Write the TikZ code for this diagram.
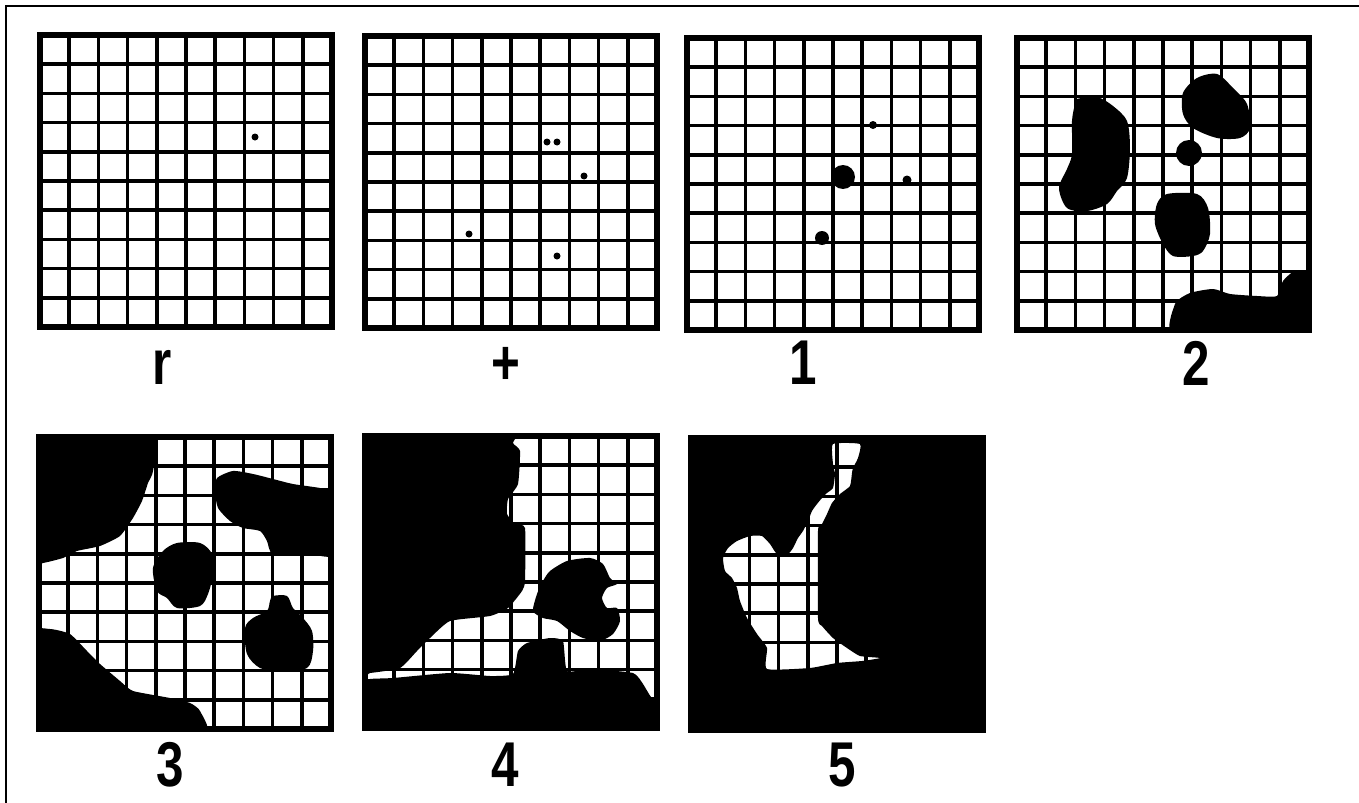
\documentclass[tikz,border=0pt]{standalone}
\usepackage{fontspec}
\setmainfont{Liberation Sans}
\usepackage{graphicx}
\usepackage{tikz}
\newcommand{\cellsize}{29.2}
\newcommand{\panelgrid}{%
  \foreach \k in {1,...,9} {%
    \draw[gridline] (\k*\cellsize,0) -- (\k*\cellsize,292);
    \draw[gridline] (0,\k*\cellsize) -- (292,\k*\cellsize);
  }}
\newcommand{\panelframe}{\draw[panelframe] (0,0) rectangle (292,292);}
\newcommand{\panelclip}{\clip (0,0) rectangle (292,292);}
\newcommand{\lbl}[1]{\scalebox{0.78}[1]{#1}}

\tikzset{
  gridline/.style={line width=1pt},
  panelframe/.style={line width=1.6pt},
  frameline/.style={line width=0.6pt},
  blob/.style={fill=black},
  paneltag/.style={font=\fontsize{18}{18}\selectfont\bfseries,anchor=base,inner sep=0pt}
}

\begin{document}
\begin{tikzpicture}[x=0.01cm,y=-0.01cm]
\useasboundingbox (0,0) rectangle (1359,803);
\draw[frameline] (1359,6) -- (6,6) -- (6,803);

% panel r
\begin{scope}[shift={(40,35)}]
  \panelgrid
  \fill[blob] (215,102) circle (3.5);
  \panelframe
\end{scope}
\node[paneltag] (tag-r) at (162,385) {\lbl{r}};

% panel +
\begin{scope}[shift={(365,36)}]
  \panelgrid
  \fill[blob] (182,106) circle (3.5);
  \fill[blob] (192,106) circle (3.5);
  \fill[blob] (219,140) circle (3.5);
  \fill[blob] (104,198) circle (3.5);
  \fill[blob] (192,220) circle (3.5);
  \panelframe
\end{scope}
\node[paneltag] (tag-plus) at (506,385) {\lbl{+}};

% panel 1
\begin{scope}[shift={(687,38)}]
  \panelgrid
  \fill[blob] (186,87) circle (4);
  \fill[blob] (156,139) circle (12);
  \fill[blob] (220,142) circle (4.5);
  \fill[blob] (135,200) circle (7);
  \panelframe
\end{scope}
\node[paneltag] (tag-one) at (803,385) {\lbl{1}};

% panel 2
\begin{scope}[shift={(1017,38)}]
  \panelgrid
  \begin{scope}
    \panelclip
    \fill[blob] plot[smooth cycle,tension=0.5] coordinates {(60,61) (80,59) (96,68) (110,83)
      (113,110) (110,140) (100,153) (90,166) (70,173) (50,170) (42,150) (50,131)
      (55,116) (55,83) (58,66)};
    \fill[blob] plot[smooth cycle,tension=0.5] coordinates {(180,40) (200,36) (216,50)
      (230,66) (233,90) (223,100) (200,100) (176,90) (166,76) (166,55)};
    \fill[blob] (172,115) circle (13);
    \fill[blob] plot[smooth cycle,tension=0.5] coordinates {(150,156) (180,156) (191,170)
      (193,196) (186,213) (176,218) (156,218) (146,206) (138,186) (140,166)};
    \fill[blob] plot[smooth cycle,tension=0.35] coordinates {(159,300) (158,266) (173,255)
      (196,251) (213,256) (240,258) (260,258) (266,243) (276,234) (290,233) (300,240) (300,300)};
  \end{scope}
  \panelframe
\end{scope}
\node[paneltag] (tag-two) at (1196,386) {\lbl{2}};

% panel 3
\begin{scope}[shift={(39,437)}]
  \panelgrid
  \begin{scope}
    \panelclip
    \fill[blob] plot[smooth cycle,tension=0.3] coordinates {(-10,-10) (114,-10) (114,34)
      (109,46) (103,64) (94,81) (81,99) (61,109) (38,114) (24,121) (4,126) (-10,126)};
    \fill[blob] plot[smooth cycle,tension=0.4] coordinates {(178,41) (194,34) (214,37)
      (234,42) (254,47) (281,51) (300,56) (300,117) (268,117) (234,117) (228,104)
      (221,94) (204,91) (191,84) (179,71) (176,54)};
    \fill[blob] plot[smooth cycle,tension=0.5] coordinates {(138,106) (161,106) (173,117)
      (174,137) (169,157) (161,169) (138,171) (128,161) (118,154) (114,131) (124,114)};
    \fill[blob] plot[smooth cycle,tension=0.5] coordinates {(234,159) (248,159) (254,171)
      (264,181) (273,194) (274,214) (268,231) (241,234) (221,231) (208,217) (206,191)
      (214,181) (228,174) (231,164)};
    \fill[blob] plot[smooth cycle,tension=0.3] coordinates {(-10,197) (11,192) (31,197)
      (48,214) (61,227) (81,244) (94,254) (131,261) (151,266) (161,274) (163,300) (-10,300)};
  \end{scope}
  \panelframe
\end{scope}
\node[paneltag] (tag-three) at (170,786) {\lbl{3}};

% panel 4
\begin{scope}[shift={(365,436)}]
  \panelgrid
  \begin{scope}
    \panelclip
    \fill[blob] plot[smooth cycle,tension=0.3] coordinates {(-10,-10) (148,-10) (148,7)
      (155,15) (153,48) (143,63) (142,78) (150,88) (160,92) (160,145) (157,155) (143,172)
      (125,180) (85,185) (65,202) (52,215) (35,232) (5,237) (-10,237)};
    \fill[blob] plot[smooth cycle,tension=0.3] coordinates {(-10,248) (5,243) (28,242)
      (85,237) (125,240) (148,238) (153,215) (162,207) (185,202) (198,205) (202,235)
      (225,233) (268,237) (278,248) (287,262) (300,262) (300,300) (-10,300)};
    \fill[blob] plot[smooth cycle,tension=0.4] coordinates {(185,135) (202,125) (225,122)
      (238,128) (245,142) (252,148) (242,152) (237,162) (242,172) (252,172) (255,185)
      (248,198) (235,205) (218,202) (205,195) (192,185) (178,182) (168,175) (172,158)
      (178,145)};
  \end{scope}
  \panelframe
\end{scope}
\node[paneltag] (tag-four) at (505,786) {\lbl{4}};

% panel 5
\begin{scope}[shift={(691,438)}]
  \panelgrid
  \begin{scope}
    \panelclip
    \fill[blob,even odd rule] (-5,-5) rectangle (297,297)
      plot[smooth cycle,tension=0.3] coordinates {(142,6) (169,6) (167,20) (162,30)
      (161,35) (159,48) (149,56) (141,65) (136,76) (131,86) (127,93) (127,180) (131,188)
      (142,200) (156,210) (169,218) (189,220) (171,223) (146,225) (119,230) (76,231)
      (76,210) (66,196) (56,180) (49,163) (46,150) (41,140) (34,133) (32,120) (37,110)
      (46,103) (59,98) (71,98) (79,106) (86,116) (97,116) (102,110) (107,100) (112,93)
      (117,83) (121,73) (126,66) (131,60) (136,55) (142,50) (144,36) (142,26)};
  \end{scope}
  \panelframe
\end{scope}
\node[paneltag] (tag-five) at (842,786) {\lbl{5}};
\end{tikzpicture}
\end{document}
